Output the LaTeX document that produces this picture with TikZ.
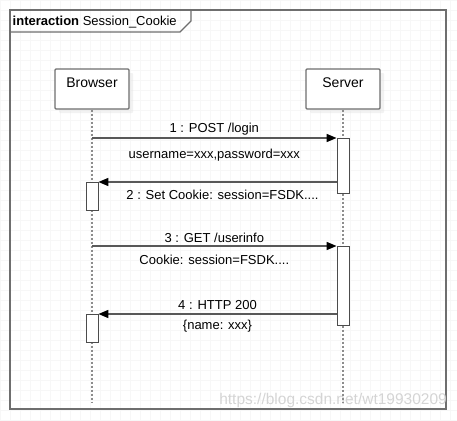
\documentclass[tikz,border=0pt]{standalone}
\usepackage{fontspec}
\setsansfont{Liberation Sans}
\usetikzlibrary{arrows.meta,shadows}
\definecolor{umlgray}{HTML}{6E6E6E}

\tikzset{
  lbl/.style={font=\sffamily\fontsize{13}{15}\selectfont, text=black, inner sep=2.5pt},
  actor/.style={draw=umlgray, line width=1.2pt, fill=white, rounded corners=1pt,
    minimum width=74pt, minimum height=40pt, text depth=12pt,
    font=\sffamily\fontsize{14}{16}\selectfont,
    drop shadow={shadow xshift=4pt, shadow yshift=-4pt, fill=black!10}},
  actbar/.style={draw=black!70, line width=0.8pt, fill=white, minimum width=12pt,
    inner sep=0pt, anchor=north},
  lifeline/.style={draw=black!45, line width=2pt, dash pattern=on 2pt off 2pt},
  msg/.style={draw=black!65, line width=1.5pt, -{Triangle[length=10pt,width=8pt,color=black]}}
}

\begin{document}
\begin{tikzpicture}[x=1pt, y=-1pt, font=\sffamily]
        \useasboundingbox (0,0) rectangle (457,420);
        % background grid and frame
        \draw[black!3, line width=0.4pt, step=10pt] (0,0) grid (457,420);
        \draw[umlgray, line width=2pt] (10,10) rectangle (446,409);
        \draw[umlgray, line width=1.2pt] (10,32) -- (180,32) -- (191,21) -- (191,10);
        \node[lbl, anchor=base west, inner sep=0pt] (title) at (12.5,26) {\textbf{interaction} Session\_Cookie};
        \node[anchor=base east, inner sep=0pt, text=black!17, font=\sffamily\fontsize{15.5}{17}\selectfont] (mark) at (447,404) {https://blog.csdn.net/wt19930209};
        % participants
        \node[actor] (browser) at (92,89) {Browser};
        \node[actor] (server) at (343,89) {Server};
        \coordinate (end) at (0,402);
        \foreach \p in {browser,server} \draw[lifeline] (\p.south) -- (\p |- end);
        % activations
        \node[actbar, minimum height=55pt] (sact1) at (343,138) {};
        \node[actbar, minimum height=28pt] (bact1) at (92,182) {};
        \node[actbar, minimum height=79pt] (sact2) at (343,246) {};
        \node[actbar, minimum height=28pt] (bact2) at (92,314) {};
        % messages
        \draw[msg] (browser |- sact1.north) -- (sact1.north west)
            node[midway, above, lbl] {1 : POST /login}
            node[midway, below=7.5pt, lbl] {username=xxx,password=xxx};
        \draw[msg] (sact1.west |- bact1.north) -- (bact1.north east)
            node[midway, below=4.5pt, xshift=5pt, lbl] {2 : Set Cookie: session=FSDK....};
        \draw[msg] (browser |- sact2.north) -- (sact2.north west)
            node[midway, above, lbl] {3 : GET /userinfo}
            node[midway, below=5.5pt, lbl] {Cookie: session=FSDK....};
        \draw[msg] (sact2.west |- bact2.north) -- (bact2.north east)
            node[midway, above=1.5pt, lbl] {4 : HTTP 200}
            node[midway, below=2.5pt, lbl] {\{name: xxx\}};
\end{tikzpicture}
\end{document}
